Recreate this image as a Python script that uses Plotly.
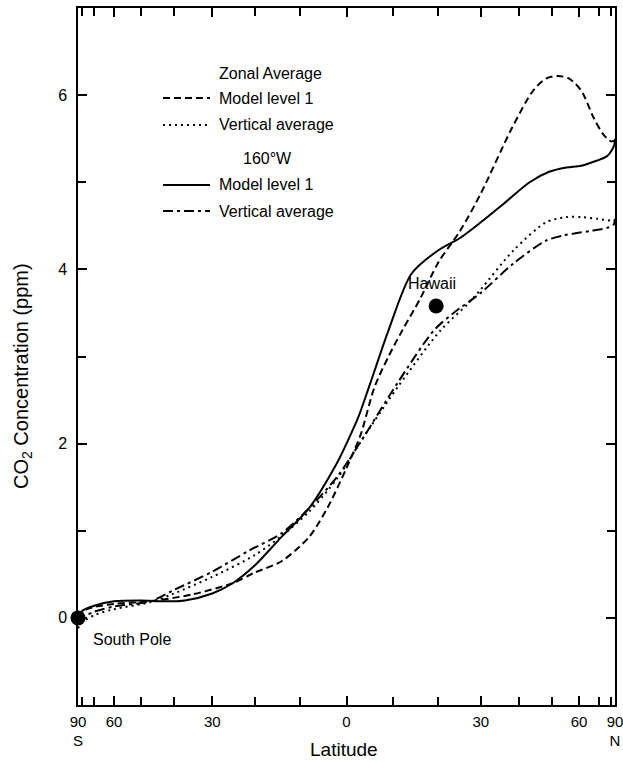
import numpy as np
import plotly.graph_objects as go

# ---- data (latitude in degrees, CO2 in ppm) ----
lat_zonal_l1 = [-90, -75, -60, -47, -35, -25, -20, -14, -8, -4, 0, 3, 6, 9, 12, 16, 20, 25, 30, 38, 44, 48, 52, 56, 61, 67, 73, 80, 90]
co2_zonal_l1 = [0.0, 0.1, 0.16, 0.19, 0.27, 0.4, 0.52, 0.65, 0.93, 1.27, 1.72, 2.1, 2.65, 3.0, 3.3, 3.67, 4.08, 4.44, 4.87, 5.62, 6.05, 6.19, 6.22, 6.19, 6.05, 5.74, 5.55, 5.47, 5.48]

lat_zonal_va = [-90, -80, -70, -60, -47, -40, -30, -20, -14, -8, -2, 3, 11, 20.5, 26.8, 30, 38.5, 48, 55, 61, 69, 80, 90]
co2_zonal_va = [-0.12, -0.05, 0.03, 0.1, 0.18, 0.28, 0.47, 0.72, 0.94, 1.22, 1.6, 2.02, 2.65, 3.3, 3.6, 3.77, 4.22, 4.54, 4.6, 4.6, 4.58, 4.56, 4.56]

lat_160w_l1 = [-90, -80, -70, -60, -50, -43, -37, -30, -25, -20, -14, -8, -2, 0, 2.5, 5, 9, 14, 20, 25, 30, 36, 43, 49, 55, 61, 69, 76, 82, 86, 90]
co2_160w_l1 = [0.0, 0.08, 0.14, 0.19, 0.2, 0.19, 0.2, 0.28, 0.4, 0.6, 0.93, 1.26, 1.78, 2.0, 2.3, 2.68, 3.3, 3.95, 4.22, 4.36, 4.54, 4.76, 5.0, 5.12, 5.17, 5.19, 5.25, 5.3, 5.38, 5.43, 5.5]

lat_160w_va = [-90, -80, -70, -60, -47, -40, -30, -21, -14, -8, -2, 3, 11, 19, 23.5, 30, 38.5, 48, 54, 65, 77, 85, 90]
co2_160w_va = [-0.06, 0.0, 0.07, 0.13, 0.19, 0.32, 0.53, 0.78, 0.97, 1.26, 1.62, 2.02, 2.7, 3.3, 3.5, 3.73, 4.07, 4.33, 4.39, 4.44, 4.48, 4.52, 4.58]

station_names = ["South Pole", "Hawaii"]
station_lat = [-90, 19.5]
station_co2 = [0.0, 3.58]

major_lats = [-90, -60, -30, 0, 30, 60, 90]
major_text = ["90<br>S", "60", "30", "0", "30", "60", "90<br>N"]
minor_lats = [-80, -70, -50, -40, -20, -10, 10, 20, 40, 50, 70, 80]
y_major = [0, 2, 4, 6]
y_minor = [1, 3, 5]


def sx(lat):
    return np.sin(np.radians(np.asarray(lat, dtype=float)))


FONT = "Liberation Sans, Arial, Helvetica, sans-serif"
fig = go.Figure()

styles = [
    (lat_zonal_l1, co2_zonal_l1, "Zonal Average: Model level 1", "7px,4px"),
    (lat_zonal_va, co2_zonal_va, "Zonal Average: Vertical average", "2px,4px"),
    (lat_160w_l1, co2_160w_l1, "160°W: Model level 1", "solid"),
    (lat_160w_va, co2_160w_va, "160°W: Vertical average", "10px,4px,3px,4px"),
]
for lat, co2, name, dash in styles:
    fig.add_trace(go.Scatter(
        x=sx(lat), y=co2, mode="lines", name=name,
        line=dict(color="black", width=2, dash=dash, shape="spline", smoothing=0.8),
        showlegend=False, hoverinfo="skip"))

fig.add_trace(go.Scatter(
    x=sx(station_lat), y=station_co2, mode="markers", name="Stations",
    marker=dict(color="black", size=15), showlegend=False, cliponaxis=False))

lab_font = dict(family=FONT, size=16, color="black")
fig.add_annotation(x=sx(station_lat[0]), y=station_co2[0], text=station_names[0],
                   showarrow=False, xanchor="left", yanchor="middle", xshift=13, yshift=-22,
                   font=lab_font)
fig.add_annotation(x=sx(station_lat[1]), y=station_co2[1], text=station_names[1],
                   showarrow=False, xanchor="left", yanchor="middle", xshift=-30, yshift=22,
                   font=lab_font)

# ---- manual legend (paper coords derived from plot-area pixels) ----
L, R, T, B = 78, 615, 8, 705
def xp(px): return (px - L) / (R - L)
def yp(py): return (B - py) / (B - T)

leg_font = dict(family=FONT, size=16, color="black")
fig.add_annotation(xref="paper", yref="paper", x=xp(217), y=yp(73), text="Zonal Average",
                   showarrow=False, xanchor="left", yanchor="middle", font=leg_font)
fig.add_annotation(xref="paper", yref="paper", x=xp(241), y=yp(158), text="160°W",
                   showarrow=False, xanchor="left", yanchor="middle", font=leg_font)
entries = [(98, "Model level 1", "7px,4px"), (125, "Vertical average", "2px,4px"),
           (185, "Model level 1", "solid"), (211, "Vertical average", "10px,4px,3px,4px")]
for py, txt, dash in entries:
    fig.add_shape(type="line", xref="paper", yref="paper", x0=xp(163), x1=xp(210), y0=yp(py), y1=yp(py),
                  line=dict(color="black", width=2, dash=dash))
    fig.add_annotation(xref="paper", yref="paper", x=xp(217), y=yp(py), text=txt,
                       showarrow=False, xanchor="left", yanchor="middle", font=leg_font)

# axis titles
fig.add_annotation(xref="paper", yref="paper", x=xp(344), y=yp(750), text="Latitude",
                   showarrow=False, xanchor="center", yanchor="middle",
                   font=dict(family=FONT, size=19, color="black"))
fig.add_annotation(xref="paper", yref="paper", x=xp(22), y=yp(376), text="CO<sub>2</sub> Concentration (ppm)",
                   showarrow=False, xanchor="center", yanchor="middle", textangle=-90,
                   font=dict(family=FONT, size=20, color="black"))

fig.update_xaxes(range=[-1, 1], tickmode="array", tickvals=sx(major_lats), ticktext=major_text,
                 ticks="inside", ticklen=9, tickwidth=1.5, tickcolor="black",
                 minor=dict(tickmode="array", tickvals=sx(minor_lats), ticks="inside", ticklen=8,
                            tickwidth=1.5, tickcolor="black", showgrid=False),
                 showline=True, linecolor="black", linewidth=1.5, mirror="ticks",
                 showgrid=False, zeroline=False, automargin=False, ticklabelstandoff=2,
                 ticklabeloverflow="allow",
                 tickfont=dict(family=FONT, size=15, color="black"))
fig.update_yaxes(range=[-1, 7], tickmode="array", tickvals=y_major, ticktext=[str(v) for v in y_major],
                 ticks="inside", ticklen=9, tickwidth=1.5, tickcolor="black",
                 minor=dict(tickmode="array", tickvals=y_minor, ticks="inside", ticklen=8,
                            tickwidth=1.5, tickcolor="black", showgrid=False),
                 showline=True, linecolor="black", linewidth=1.5, mirror="ticks",
                 showgrid=False, zeroline=False, automargin=False, ticklabelstandoff=6,
                 tickfont=dict(family=FONT, size=16, color="black"))

fig.update_layout(width=623, height=763, margin=dict(l=78, r=8, t=8, b=58),
                  plot_bgcolor="white", paper_bgcolor="white")

fig.write_html("out.html", config={"displayModeBar": False},
               post_script="document.body.style.margin='0px';")
